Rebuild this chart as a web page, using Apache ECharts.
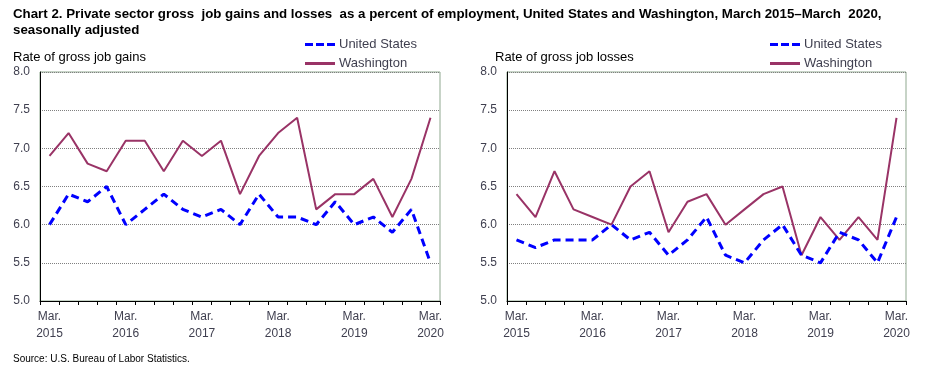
<!DOCTYPE html>
<html>
<head>
<meta charset="utf-8">
<script src="https://cdn.jsdelivr.net/npm/echarts@6/dist/echarts.min.js"></script>
<style>
html,body{margin:0;padding:0;background:#fff;}
#chart{width:930px;height:372px;}
</style>
</head>
<body>
<div id="chart"></div>
<script>
var categories = ["Mar. 2015","Jun. 2015","Sep. 2015","Dec. 2015",
  "Mar. 2016","Jun. 2016","Sep. 2016","Dec. 2016",
  "Mar. 2017","Jun. 2017","Sep. 2017","Dec. 2017",
  "Mar. 2018","Jun. 2018","Sep. 2018","Dec. 2018",
  "Mar. 2019","Jun. 2019","Sep. 2019","Dec. 2019",
  "Mar. 2020"];
var gainsUS = [6.0,6.4,6.3,6.5,6.0,6.2,6.4,6.2,6.1,6.2,6.0,6.4,6.1,6.1,6.0,6.3,6.0,6.1,5.9,6.2,5.5];
var gainsWA = [6.9,7.2,6.8,6.7,7.1,7.1,6.7,7.1,6.9,7.1,6.4,6.9,7.2,7.4,6.2,6.4,6.4,6.6,6.1,6.6,7.4];
var lossesUS = [5.8,5.7,5.8,5.8,5.8,6.0,5.8,5.9,5.6,5.8,6.1,5.6,5.5,5.8,6.0,5.6,5.5,5.9,5.8,5.5,6.1];
var lossesWA = [6.4,6.1,6.7,6.2,6.1,6.0,6.5,6.7,5.9,6.3,6.4,6.0,6.2,6.4,6.5,5.6,6.1,5.8,6.1,5.8,7.4];
var yTicks = {min:5.0, max:8.0, interval:0.5};

var FONT = 'Liberation Sans, Arial, sans-serif';
var labelColor = '#3f3f4f';
var usColor = '#0000ff';
var waColor = '#993366';

function xAxis(gridIndex){
  return {
    type:'category', gridIndex:gridIndex, data:categories, boundaryGap:true,
    axisLine:{show:true, lineStyle:{color:'#000', width:1}},
    axisTick:{show:true, interval:0, length:4, lineStyle:{color:'#000'}},
    axisLabel:{interval:3, color:labelColor, fontFamily:FONT, fontSize:12, lineHeight:17, margin:7,
      formatter:function(v){return v.replace(' ', '\n');}},
    splitLine:{show:false}
  };
}
function yAxis(gridIndex){
  return {
    type:'value', gridIndex:gridIndex, min:yTicks.min, max:yTicks.max, interval:yTicks.interval,
    axisLine:{show:true, lineStyle:{color:'#000', width:1}},
    axisTick:{show:false},
    axisLabel:{color:labelColor, fontFamily:FONT, fontSize:12, margin:10,
      formatter:function(v){return v.toFixed(1);}},
    splitLine:{show:true, lineStyle:{color:'#808080', type:[1,1], width:1}}
  };
}
function usSeries(i, data){
  return {name:'United States', type:'line', xAxisIndex:i, yAxisIndex:i, data:data, symbol:'none',
    lineStyle:{color:usColor, width:3, type:[8,5]}, itemStyle:{color:usColor}, z:3, animation:false};
}
function waSeries(i, data){
  return {name:'Washington', type:'line', xAxisIndex:i, yAxisIndex:i, data:data, symbol:'none',
    lineStyle:{color:waColor, width:2}, itemStyle:{color:waColor}, z:2, animation:false};
}
var usIcon = 'path://M0,0h8v3h-8z M11,0h8v3h-8z M22,0h8v3h-8z';
var waIcon = 'path://M0,0h30v3h-30z';
function legend(left){
  return {
    left:left, top:33, orient:'vertical', itemGap:6, itemWidth:30, itemHeight:3,
    textStyle:{color:labelColor, fontFamily:FONT, fontSize:13, padding:[0,0,0,-1]},
    itemStyle:{borderWidth:0},
    lineStyle:{width:0},
    data:[{name:'United States', icon:usIcon},{name:'Washington', icon:waIcon}],
    selectedMode:false
  };
}

var chart = echarts.init(document.getElementById('chart'), null, {renderer:'canvas'});
chart.setOption({
  backgroundColor:'#fff',
  animation:false,
  title:[
    {text:'Chart 2. Private sector gross  job gains and losses  as a percent of employment, United States and Washington, March 2015\u2013March  2020,\nseasonally adjusted',
     left:8, top:1, textStyle:{fontFamily:FONT, fontSize:13.3, fontWeight:'bold', color:'#000', lineHeight:16}},
    {text:'Rate of gross job gains', left:8, top:46, textStyle:{fontFamily:FONT, fontSize:13, fontWeight:'normal', color:'#000'}},
    {text:'Rate of gross job losses', left:490, top:46, textStyle:{fontFamily:FONT, fontSize:13, fontWeight:'normal', color:'#000'}},
    {text:'Source: U.S. Bureau of Labor Statistics.', left:8, top:349, textStyle:{fontFamily:FONT, fontSize:10, fontWeight:'normal', color:'#000'}}
  ],
  legend:[legend(300), legend(765)],
  grid:[
    {left:40, right:490, top:72, bottom:71, show:true, borderColor:'#8fa88f', borderWidth:1, backgroundColor:'transparent'},
    {left:507, right:24, top:72, bottom:71, show:true, borderColor:'#8fa88f', borderWidth:1, backgroundColor:'transparent'}
  ],
  xAxis:[xAxis(0), xAxis(1)],
  yAxis:[yAxis(0), yAxis(1)],
  series:[
    waSeries(0, gainsWA), usSeries(0, gainsUS),
    waSeries(1, lossesWA), usSeries(1, lossesUS)
  ]
});
</script>
</body>
</html>
